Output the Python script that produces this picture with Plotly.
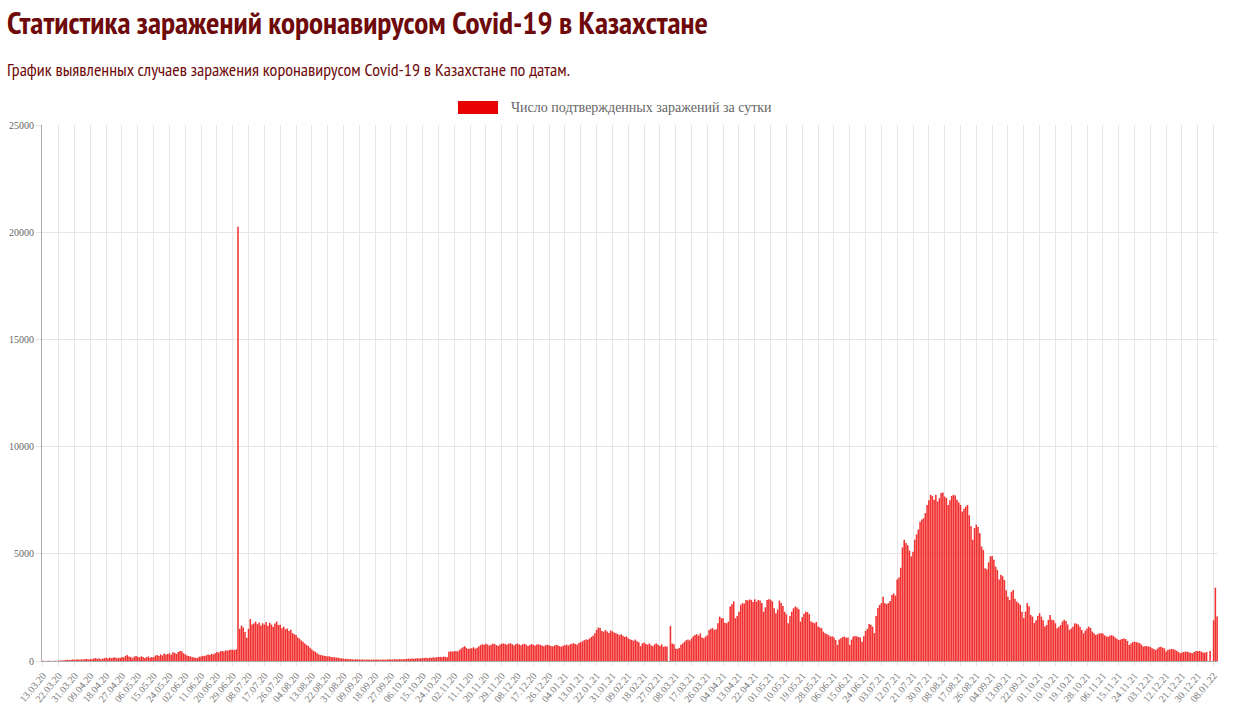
import pandas as pd
import plotly.graph_objects as go

# Daily confirmed cases (13.03.2020 - 10.01.2022)
START_DATE = "2020-03-13"

cases_2020 = [
    6, 3, 0, 16, 8, 2, 3, 11, 0,
    20, 27, 18, 35, 47, 58, 43, 64, 71,
    55, 72, 84, 60, 79, 65, 93, 88, 70,
    102, 86, 115, 140, 98, 125, 85, 110, 132,
    150, 118, 160, 135, 148, 170, 126, 155, 140,
    185, 165, 240, 275, 210, 190, 130, 205, 235,
    200, 160, 220, 185, 140, 175, 210, 150, 190,
    175, 250, 280, 230, 310, 260, 350, 300, 330,
    360, 290, 410, 380, 330, 420, 470, 455, 360,
    310, 260, 230, 210, 180, 165, 150, 140, 200,
    210, 250, 230, 270, 300, 280, 330, 310, 360,
    420, 390, 450, 470, 440, 500, 480, 510, 520,
    530, 510, 545, 20250, 1500, 1650, 1560, 1350, 1080,
    1500, 1960, 1700, 1750, 1840, 1720, 1800, 1650, 1760,
    1700, 1820, 1640, 1780, 1700, 1600, 1750, 1840, 1680,
    1690, 1530, 1600, 1480, 1520, 1400, 1460, 1300, 1250,
    1210, 1100, 1040, 960, 900, 820, 750, 700, 620,
    540, 470, 430, 360, 300, 280, 260, 240, 230,
    210, 220, 190, 180, 170, 160, 150, 130, 120,
    110, 95, 100, 85, 90, 80, 75, 85, 70,
    70, 65, 75, 60, 68, 72, 64, 58, 70,
    62, 70, 66, 55, 74, 68, 60, 72, 78,
    75, 68, 80, 85, 72, 90, 84, 78, 92,
    95, 110, 100, 120, 105, 115, 130, 118, 125,
    135, 140, 150, 128, 160, 145, 170, 155, 180,
    185, 200, 175, 210, 190, 170, 430, 450, 440,
    460, 470, 445, 520, 580, 640, 690, 610, 560,
    580, 600, 640, 570, 620, 680, 740, 780, 760,
    800, 770, 720, 760, 810, 790, 740, 700, 770,
    800, 820, 790, 760, 810, 830, 780, 720, 790,
    810, 770, 730, 780, 800, 760, 700, 750, 790,
    760, 720, 770, 780, 750, 720, 690, 740, 760,
    740, 700, 680, 720, 750, 730,
]

cases_2021 = [
    690, 670, 710,
    740, 760, 720, 780, 800, 830, 790, 760, 850,
    880, 920, 970, 1000, 990, 1050, 1120, 1180, 1300,
    1450, 1560, 1540, 1400, 1370, 1440, 1380, 1310, 1420,
    1380, 1330, 1300, 1260, 1200, 1250, 1180, 1120, 1150,
    1060, 1010, 980, 940, 1000, 920, 880, 690, 820,
    860, 800, 760, 820, 740, 690, 780, 820, 760,
    700, 780, 660, 690, 680, 0, 1640, 820, 780,
    580, 560, 610, 760, 820, 900, 970, 1000, 960,
    1050, 1150, 1210, 1250, 1180, 1290, 1100, 1060, 1140,
    1200, 1450, 1500, 1530, 1450, 1480, 1760, 2070, 2000,
    1990, 1780, 1760, 1840, 2540, 2650, 2780, 2000, 2100,
    2300, 2620, 2700, 2680, 2850, 2820, 2870, 2850, 2750,
    2880, 2770, 2850, 2820, 2700, 2300, 2500, 2850, 2880,
    2860, 2780, 2460, 2230, 2400, 2820, 2700, 2560, 2300,
    2180, 1760, 2100, 2300, 2460, 2540, 2500, 2420, 1840,
    2050, 2200, 2300, 2280, 2180, 1840, 1790, 1760, 1820,
    1610, 1560, 1530, 1370, 1300, 1260, 1200, 1140, 1150,
    1100, 980, 750, 1000, 1060, 1120, 1140, 1080, 1100,
    750, 1000, 1140, 1170, 1150, 1120, 1100, 900, 1150,
    1400, 1500, 1720, 1690, 1600, 1300, 2100, 2470, 2610,
    2700, 3000, 2700, 2650, 2700, 2800, 3080, 3150, 3050,
    3800, 3900, 4350, 5300, 5650, 5500, 5400, 5150, 4880,
    5100, 5650, 5900, 6130, 6500, 6600, 6660, 6900, 7280,
    7500, 7750, 7700, 7520, 7750, 7440, 7600, 7830, 7860,
    7670, 7600, 7280, 7500, 7700, 7750, 7720, 7520, 7400,
    7280, 6970, 7100, 7200, 7280, 6800, 6280, 5650, 6200,
    6360, 6250, 5960, 5340, 5180, 4330, 4280, 4600, 4880,
    4900, 4720, 4400, 4250, 3800, 4020, 3950, 3780, 3300,
    3000, 2850, 3230, 3310, 2900, 2770, 2700, 2620, 2300,
    2000, 2300, 2700, 2550, 2150, 2070, 1770, 1900, 2100,
    2230, 2070, 1900, 1610, 1680, 1920, 2150, 1920, 1900,
    1760, 1530, 1600, 1680, 1840, 1920, 1860, 1700, 1450,
    1520, 1600, 1760, 1740, 1700, 1600, 1450, 1290, 1420,
    1520, 1600, 1540, 1370, 1300, 1210, 1250, 1290, 1300,
    1280, 1200, 1150, 1130, 1180, 1210, 1170, 1100, 1040,
    980, 1000, 1030, 1050, 1020, 930, 750, 820, 880,
    900, 880, 860, 830, 760, 670, 700, 690, 680,
    650, 600, 560, 510, 580, 640, 670, 620, 590,
    440, 520, 540, 560, 545, 530, 480, 420, 360,
    400, 420, 440, 430, 410, 380, 360, 420, 470,
    460, 470,
]

cases_2022 = [440, 400, 380, 420, 0, 470, 0, 1900, 3420, 2080]

TITLE = "Статистика заражений коронавирусом Covid-19 в Казахстане"
SUBTITLE = "График выявленных случаев заражения коронавирусом Covid-19 в Казахстане по датам."
SERIES_NAME = "Число подтвержденных заражений за сутки"

y_ticks = [0, 5000, 10000, 15000, 20000, 25000]

cases = cases_2020 + cases_2021 + cases_2022
dates = pd.date_range(START_DATE, periods=len(cases), freq="D")
labels = [d.strftime("%d.%m.%y") for d in dates]
tick_labels = labels[::9]

DARK_RED = "#6e0a0a"
GRID = "#e6e6e6"
SERIF = "Liberation Serif, Times New Roman, serif"
NARROW = "Liberation Sans Narrow, PT Sans Narrow, DejaVu Sans Condensed, sans-serif"

fig = go.Figure()
fig.add_trace(go.Bar(
    x=labels,
    y=cases,
    name=SERIES_NAME,
    marker=dict(color="rgba(240,25,25,0.9)", line=dict(width=0)),
    showlegend=False,
))

# plot area: x 42..1218, y 125..661 (page body margin removed below)
fig.update_layout(
    width=1234,
    height=709,
    margin=dict(l=42, r=16, t=125, b=48),
    paper_bgcolor="white",
    plot_bgcolor="white",
    bargap=0.12,
    xaxis=dict(
        type="category",
        tickmode="array",
        tickvals=tick_labels,
        ticktext=tick_labels,
        tickangle=-50,
        tickfont=dict(family=SERIF, size=10, color="#777"),
        showgrid=True,
        gridcolor=GRID,
        ticks="outside",
        ticklen=4,
        tickcolor=GRID,
        showline=True,
        linecolor="#aaa",
        automargin=False,
        fixedrange=True,
    ),
    yaxis=dict(
        range=[0, 25000],
        tickvals=y_ticks,
        tickformat="d",
        tickfont=dict(family=SERIF, size=10, color="#666"),
        showgrid=True,
        gridcolor=GRID,
        zeroline=False,
        ticks="outside",
        ticklen=5,
        tickcolor=GRID,
        showline=True,
        linecolor="#aaa",
        automargin=False,
        fixedrange=True,
    ),
)

# Title, subtitle and legend drawn in paper space
fig.add_annotation(
    text=f"<b>{TITLE}</b>", xref="paper", yref="paper",
    x=-0.0315, y=1.192, xanchor="left", yanchor="middle", showarrow=False,
    font=dict(family=NARROW, size=31.5, color=DARK_RED),
)
fig.add_annotation(
    text=SUBTITLE, xref="paper", yref="paper",
    x=-0.0315, y=1.103, xanchor="left", yanchor="middle", showarrow=False,
    font=dict(family=NARROW, size=18, color=DARK_RED),
)
fig.add_shape(
    type="rect", xref="paper", yref="paper",
    x0=0.3537, x1=0.3878, y0=1.0205, y1=1.0448,
    fillcolor="#e60000", line=dict(width=0),
)
fig.add_annotation(
    text=SERIES_NAME, xref="paper", yref="paper",
    x=0.3971, y=1.0326, xanchor="left", yanchor="middle", showarrow=False,
    font=dict(family=SERIF, size=14, color="#666"),
)

fig.write_html(
    "out.html",
    config={"displayModeBar": False},
    post_script="document.body.style.margin = '0';",
)
